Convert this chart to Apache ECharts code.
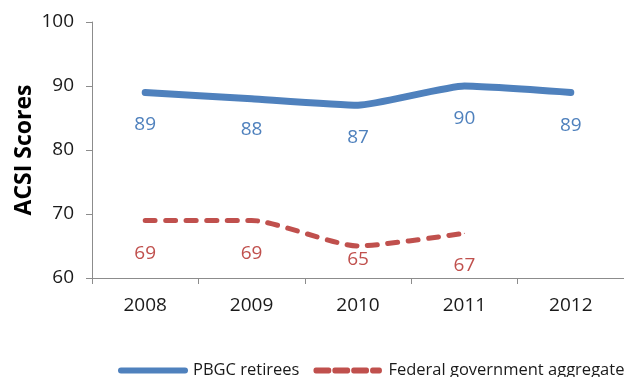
<!DOCTYPE html>
<html>
<head>
<meta charset="utf-8">
<script src="https://cdn.jsdelivr.net/npm/echarts@6/dist/echarts.min.js"></script>
<style>
  html, body { margin: 0; padding: 0; background: #fff; }
  #chart { width: 624px; height: 377px; }
</style>
</head>
<body>
<div id="chart"></div>
<script>
// Survey years and ACSI scores
const years = ['2008', '2009', '2010', '2011', '2012'];
const pbgcRetirees = [89, 88, 87, 90, 89];
const federalAggregate = [69, 69, 65, 67, null];
// Vertical distance of each value label below its point
const pbgcLabelGap = [22, 21, 22, 23, 23];
const fedLabelGap = [23, 23, 4, 22, 0];

const FONT = 'Open Sans';
const TEXT = '#1a1a1a';
const AXIS = '#8c8c8c';
const BLUE = '#4F81BD';
const RED = '#C0504D';

function withLabels(values, gaps) {
  return values.map((v, i) => ({
    value: v,
    label: { show: v !== null, distance: gaps[i] }
  }));
}

const chart = echarts.init(document.getElementById('chart'));
chart.setOption({
  animation: false,
  grid: { left: 92, top: 22, width: 535, height: 256 },
  xAxis: {
    type: 'category',
    data: years,
    boundaryGap: true,
    axisLine: { lineStyle: { color: AXIS, width: 1 } },
    axisTick: { show: true, length: 6, lineStyle: { color: AXIS } },
    axisLabel: { color: TEXT, fontFamily: FONT, fontSize: 19, margin: 18 }
  },
  yAxis: {
    type: 'value',
    min: 60, max: 100, interval: 10,
    name: 'ACSI Scores',
    nameLocation: 'middle',
    nameGap: 56,
    nameMoveOverlap: false,
    nameTextStyle: { color: '#000', fontFamily: FONT, fontSize: 23, fontWeight: 'bold' },
    axisLine: { show: true, lineStyle: { color: AXIS, width: 1 } },
    axisTick: { show: true, length: 6, lineStyle: { color: AXIS } },
    splitLine: { show: false },
    axisLabel: { color: TEXT, fontFamily: FONT, fontSize: 19, margin: 18 }
  },
  legend: {
    left: 113,
    top: 357,
    width: 540,
    itemWidth: 70,
    itemHeight: 6,
    itemGap: 14,
    textStyle: { color: TEXT, fontFamily: FONT, fontSize: 16.5 },
    data: [
      { name: 'PBGC retirees', icon: 'path://M3,0 H67 A3,3 0 0 1 67,6 H3 A3,3 0 0 1 3,0 Z' },
      { name: 'Federal government aggregate',
        icon: 'path://M2,0 H15 A2.5,3 0 0 1 15,6 H2 A2.5,3 0 0 1 2,0 Z M21,0 H34 A2.5,3 0 0 1 34,6 H21 A2.5,3 0 0 1 21,0 Z M40,0 H53 A2.5,3 0 0 1 53,6 H40 A2.5,3 0 0 1 40,0 Z M59,0 H66 A2.5,3 0 0 1 66,6 H59 A2.5,3 0 0 1 59,0 Z M70,0 L70,6' }
    ]
  },
  series: [
    {
      name: 'PBGC retirees',
      type: 'line',
      data: withLabels(pbgcRetirees, pbgcLabelGap),
      smooth: 0.15,
      symbol: 'circle',
      symbolSize: 1,
      label: { show: true, position: 'bottom', color: BLUE, fontFamily: FONT, fontSize: 19 },
      lineStyle: { color: BLUE, width: 7, cap: 'round', join: 'round' },
      itemStyle: { color: BLUE }
    },
    {
      name: 'Federal government aggregate',
      type: 'line',
      data: withLabels(federalAggregate, fedLabelGap),
      smooth: 0.2,
      symbol: 'circle',
      symbolSize: 1,
      connectNulls: false,
      label: { show: true, position: 'bottom', color: RED, fontFamily: FONT, fontSize: 19 },
      lineStyle: { color: RED, width: 5, type: [10, 10.5], cap: 'round' },
      itemStyle: { color: RED }
    }
  ]
});
</script>
</body>
</html>
